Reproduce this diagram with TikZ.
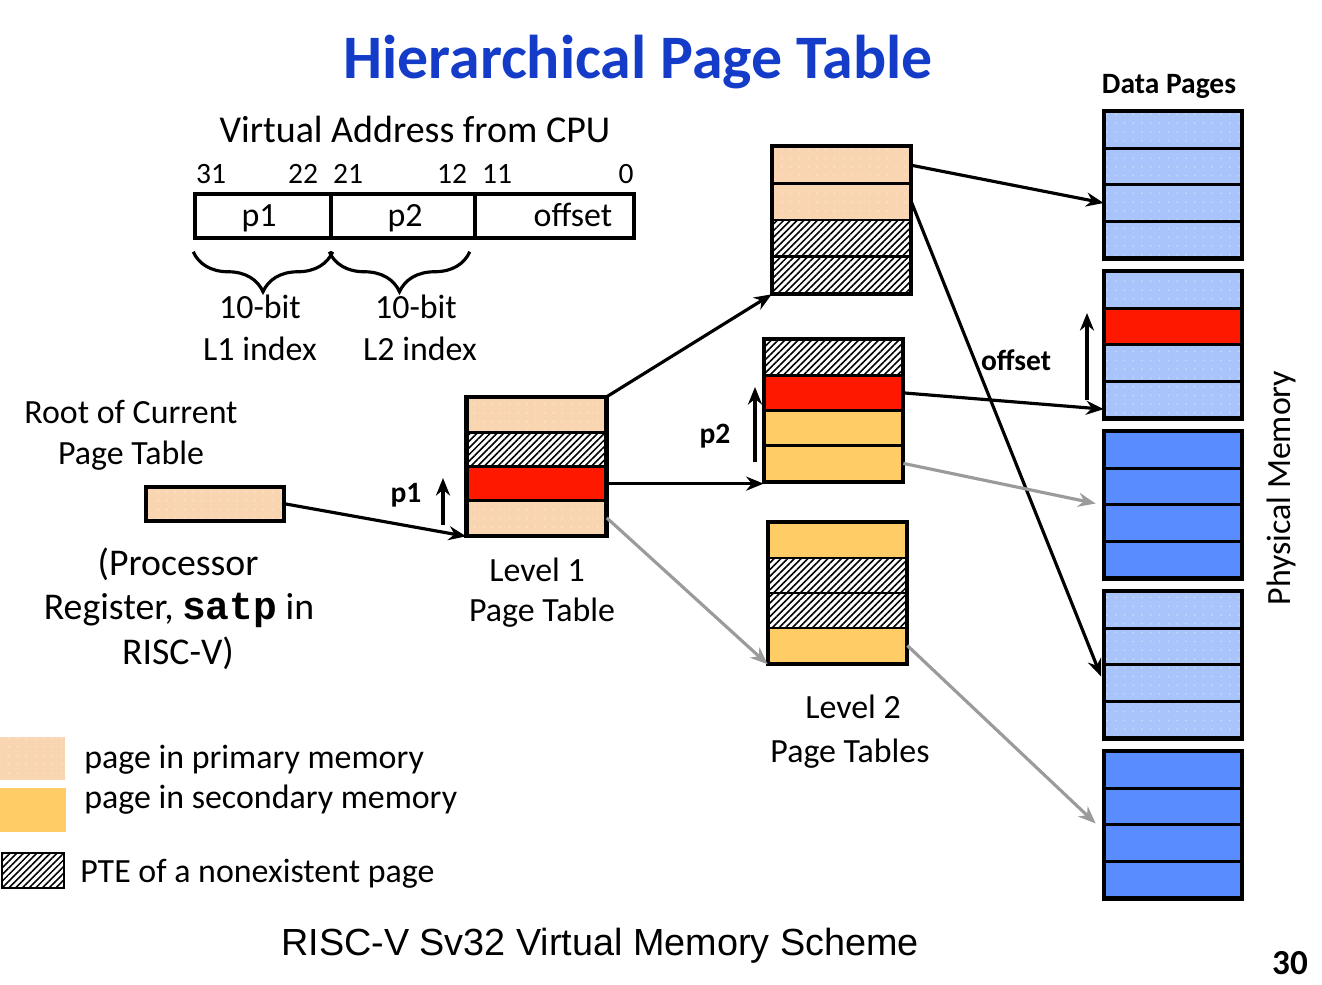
\documentclass[tikz,border=0pt]{standalone}
\usepackage{fontspec}
\setmainfont{Carlito}
\setmonofont{Liberation Mono}
\newfontfamily\capfont{Liberation Sans}
\usetikzlibrary{arrows.meta,patterns.meta,decorations.pathreplacing,calc}
\definecolor{peachc}{RGB}{250,213,178}
\definecolor{peachdot}{RGB}{253,232,212}
\definecolor{orangec}{RGB}{255,204,102}
\definecolor{redc}{RGB}{255,24,0}
\definecolor{lightblue}{RGB}{168,196,250}
\definecolor{bluedot}{RGB}{205,222,253}
\definecolor{darkblue}{RGB}{88,140,255}
\definecolor{titleblue}{RGB}{20,60,200}
\definecolor{grayarr}{RGB}{155,155,155}
\newcommand\pgtbl[9]{%
  \node[rowbox,#6,minimum width=#4*0.02cm,minimum height=#5*0.02cm] (#1-1) at ({#2},{#3+0.5*#5}) {};
  \node[rowbox,#7,minimum width=#4*0.02cm,minimum height=#5*0.02cm] (#1-2) at ({#2},{#3+1.5*#5}) {};
  \node[rowbox,#8,minimum width=#4*0.02cm,minimum height=#5*0.02cm] (#1-3) at ({#2},{#3+2.5*#5}) {};
  \node[rowbox,#9,minimum width=#4*0.02cm,minimum height=#5*0.02cm] (#1-4) at ({#2},{#3+3.5*#5}) {};
  \draw[line width=2.2pt] (#1-1.north west) rectangle (#1-4.south east);
}
\begin{document}
\begin{tikzpicture}[x=0.02cm,y=-0.02cm,
  rowbox/.style={draw=black,line width=1.5pt,inner sep=0pt,rectangle},
  peachrow/.style={preaction={fill=peachc},pattern={Dots[distance=5pt,radius=0.5pt]},pattern color=peachdot},
  bluedotrow/.style={preaction={fill=lightblue},pattern={Dots[distance=5pt,radius=0.5pt]},pattern color=bluedot},
  orangerow/.style={fill=orangec},
  redrow/.style={fill=redc},
  darkrow/.style={fill=darkblue},
  hatchrow/.style={preaction={fill=white},pattern={Lines[angle=45,distance=2.7pt,line width=0.9pt]},pattern color=black},
  field/.style={draw=black,line width=2pt,inner sep=0pt,minimum height=44*0.02cm},
  txt/.style={inner sep=0pt,anchor=base,font=\fontsize{19.3}{23}\selectfont},
  bigtxt/.style={inner sep=0pt,anchor=base,font=\fontsize{21.5}{25}\selectfont},
  numtxt/.style={inner sep=0pt,anchor=base,font=\fontsize{16.8}{20}\selectfont},
  boldlbl/.style={inner sep=0pt,anchor=base,font=\fontsize{16.8}{20}\selectfont\bfseries},
  arr/.style={line width=1.8pt,-{Stealth[length=10pt,width=8pt]}},
  garr/.style={arr,draw=grayarr},
  bracestyle/.style={line width=1.8pt,decorate,decoration={brace,mirror,amplitude=0.8cm}},
]
\useasboundingbox (0,0) rectangle (1322,984);

% title
\node[inner sep=0pt,anchor=base,text=titleblue,font=\bfseries\fontsize{35.2}{40}\selectfont] (title) at (638,78) {Hierarchical Page Table};

% virtual address
\node[inner sep=0pt,anchor=base,font=\fontsize{21.6}{25}\selectfont] (vatitle) at (415,142) {Virtual Address from CPU};
\node[numtxt] (b31) at (211,183) {31};
\node[numtxt] (b22) at (303,183) {22};
\node[numtxt] (b21) at (348,183) {21};
\node[numtxt] (b12) at (452,183) {12};
\node[numtxt] (b11) at (497,183) {11};
\node[numtxt] (b0) at (626,183) {0};
\node[field,minimum width=136*0.02cm] (f1) at (263,216) {};
\node[field,minimum width=144*0.02cm] (f2) at (403,216) {};
\node[field,minimum width=159*0.02cm] (f3) at (554.5,216) {};
\node[txt] (tp1) at (259,226) {p1};
\node[txt] (tp2) at (405,226) {p2};
\node[txt] (toff) at (573,226) {offset};
\draw[bracestyle] ([yshift=-0.24cm]f1.south west) -- ([yshift=-0.24cm]f1.south east);
\draw[bracestyle] ([yshift=-0.24cm]f2.south west) -- ([xshift=-0.14cm,yshift=-0.24cm]f2.south east);
\node[txt] (tb1) at (260,318) {10-bit};
\node[txt] (ti1) at (260,360) {L1 index};
\node[txt] (tb2) at (416,318) {10-bit};
\node[txt] (ti2) at (420,360) {L2 index};

% root
\node[txt] (rt1) at (131,423) {Root of Current};
\node[txt] (rt2) at (131,464) {Page Table};
\node[rowbox,peachrow,line width=2.2pt,minimum width=138*0.02cm,minimum height=34*0.02cm] (root) at (215,504) {};
\node[bigtxt] (pr1) at (178,575) {(Processor};
\node[bigtxt] (pr2) at (179,619) {Register, {\ttfamily\bfseries\fontsize{22.5}{25}\selectfont satp} in};
\node[bigtxt] (pr3) at (178,664) {RISC-V)};

% level 1
\pgtbl{l1}{536.5}{398}{138}{34.25}{peachrow}{hatchrow}{redrow}{peachrow}
\node[txt] (lv1a) at (537,581) {Level 1};
\node[txt] (lv1b) at (542,621) {Page Table};
\coordinate (p1s) at (443,525);
\coordinate (p1e) at (443,478);
\draw[arr] (p1s) -- (p1e);
\node[boldlbl] (lp1) at (406,502) {p1};

% level 2
\pgtbl{l2a}{841.5}{147}{137}{36.5}{peachrow}{peachrow}{hatchrow}{hatchrow}
\pgtbl{l2b}{833.5}{340}{137}{35.25}{hatchrow}{redrow}{orangerow}{orangerow}
\pgtbl{l2c}{837.5}{523}{137}{35}{orangerow}{hatchrow}{hatchrow}{orangerow}
\node[txt] (lv2a) at (853,718) {Level 2};
\node[txt] (lv2b) at (850,762) {Page Tables};
\coordinate (p2s) at (755,462);
\coordinate (p2e) at (755,387);
\draw[arr] (p2s) -- (p2e);
\node[boldlbl] (lp2) at (715,443) {p2};

% data pages
\node[boldlbl] (dptitle) at (1169,93) {Data Pages};
\pgtbl{dp1}{1173}{112}{136}{36.4}{bluedotrow}{bluedotrow}{bluedotrow}{bluedotrow}
\pgtbl{dp2}{1173}{272}{136}{36.4}{bluedotrow}{redrow}{bluedotrow}{bluedotrow}
\pgtbl{dp3}{1173}{432}{136}{36.4}{darkrow}{darkrow}{darkrow}{darkrow}
\pgtbl{dp4}{1173}{592}{136}{36.4}{bluedotrow}{bluedotrow}{bluedotrow}{bluedotrow}
\pgtbl{dp5}{1173}{752}{136}{36.4}{darkrow}{darkrow}{darkrow}{darkrow}
\node[txt,rotate=90] (pm) at (1290,488) {Physical Memory};
\coordinate (ofs) at (1087,400);
\coordinate (ofe) at (1087,313);
\draw[arr] (ofs) -- (ofe);
\node[boldlbl] (lof) at (1016,370) {offset};

% connectors
\draw[arr] (root.east) -- (l1-4.south west);
\draw[arr] (l1-1.north east) -- (l2a-4.south west);
\draw[arr] (l1-3.east) -- (l1-3.east -| l2b-4.west);
\draw[garr] (l1-4.east) -- (l2c-4.south west);
\draw[arr] (l2a-1.east) -- (dp1-3.west);
\draw[arr,shorten >=4pt] (l2a-2.east) -- (dp4-3.west);
\draw[arr] (l2b-2.east) -- ($(dp2-4.west)!0.5!(dp2-4.south west)$);
\draw[garr] (l2b-4.east) -- ([xshift=-0.16cm]dp3-3.north west);
\draw[garr] (l2c-4.east) -- ([xshift=-0.16cm]dp5-3.north west);

% legend
\node[peachrow,inner sep=0pt,minimum width=65*0.02cm,minimum height=43*0.02cm] (lgp) at (32.5,758.5) {};
\node[orangerow,inner sep=0pt,minimum width=66*0.02cm,minimum height=44*0.02cm] (lgo) at (33,810) {};
\node[rowbox,hatchrow,minimum width=62*0.02cm,minimum height=35*0.02cm] (lgh) at (33,870.5) {};
\node[txt,anchor=base west] (lt1) at (84,768) {page in primary memory};
\node[txt,anchor=base west] (lt2) at (84,808) {page in secondary memory};
\node[txt,anchor=base west] (lt3) at (80,882) {PTE of a nonexistent page};

% caption
\node[inner sep=0pt,anchor=base,font=\capfont\fontsize{21.5}{25}\selectfont] (cap) at (600,955) {RISC-V Sv32 Virtual Memory Scheme};
\node[inner sep=0pt,anchor=base,font=\bfseries\fontsize{20}{24}\selectfont] (pgnum) at (1290,974) {30};
\end{tikzpicture}
\end{document}
